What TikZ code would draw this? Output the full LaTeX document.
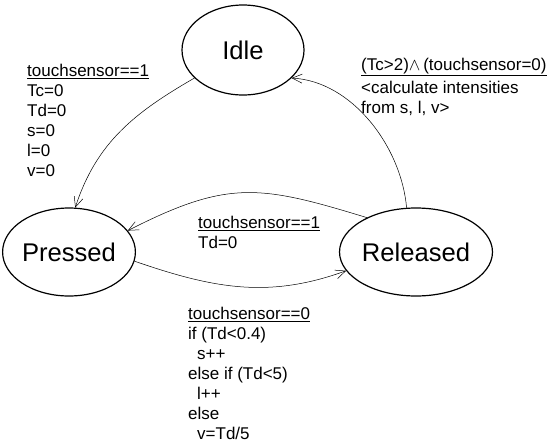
\documentclass[tikz,border=0pt]{standalone}
\usepackage{fontspec}
\setmainfont{Liberation Sans}
\usetikzlibrary{shapes.geometric,arrows.meta}
\begin{document}
\begin{tikzpicture}[x=1pt,y=1pt,
  state/.style={ellipse,draw,line width=1.2pt,inner sep=0pt,font=\fontsize{25.6}{30}\selectfont},
  conn/.style={line width=0.5pt,-{Straight Barb[length=10pt,width=9pt,line width=0.5pt]}},
  lbl/.style={align=left,inner sep=0pt,anchor=north west,font=\fontsize{17}{20}\selectfont}]
\useasboundingbox (0,0) rectangle (556,-445);
\node[state,minimum width=122pt,minimum height=90pt] (idle) at (243,-50) {Idle};
\node[state,minimum width=122pt,minimum height=88pt] (pressed) at (69,-252) {Pressed};
\node[state,minimum width=122pt,minimum height=88pt] (released) at (416,-252) {Released};
\draw[conn] (idle.210) to[out=210,in=72] (pressed.82);
\draw[conn] (released.102) to[out=95,in=-3,looseness=0.9] (idle.-30);
\draw[conn] (released.145) to[out=163,in=27,looseness=1.2] (pressed.20);
\draw[conn] (pressed.-8) to[out=-19,in=200] (released.195);
\node[lbl] (lidle) at (27,-63.7) {\underline{touchsensor==1}\\Tc=0\\Td=0\\s=0\\l=0\\v=0};
\node[lbl] (lrel) at (361,-57.6) {\underline{(Tc>2)$\wedge$\,(touchsensor=0)}\\[3pt]<calculate intensities\\from s, l, v>};
\node[lbl] (ltop) at (198,-215.7) {\underline{touchsensor==1}\\Td=0};
\node[lbl] (lbot) at (188,-306.7) {\underline{touchsensor==0}\\if (Td<0.4)\\\hspace*{9pt}s++\\else if (Td<5)\\\hspace*{9pt}l++\\else\\\hspace*{9pt}v=Td/5};
\end{tikzpicture}
\end{document}
